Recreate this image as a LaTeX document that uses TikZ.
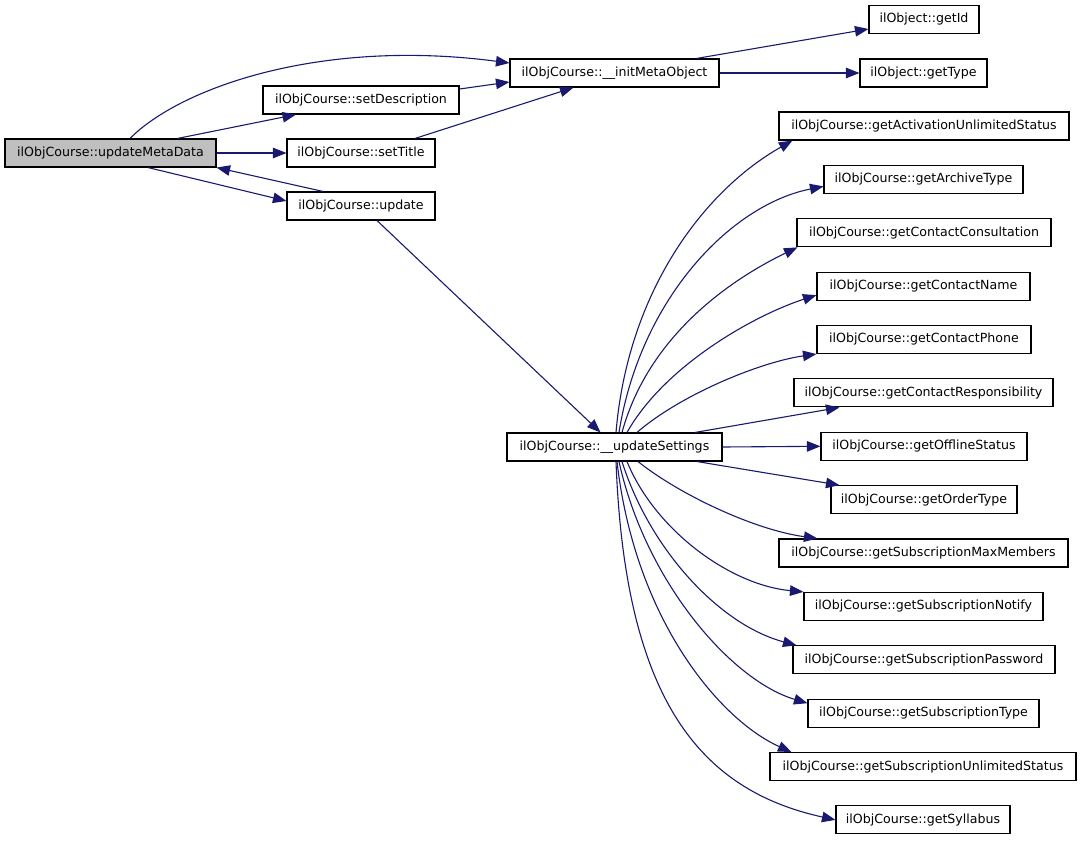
\documentclass[tikz,border=0pt]{standalone}
\usepackage{fontspec}
\newfontfamily\dv{DejaVu Sans}
\usetikzlibrary{arrows.meta,calc}
\definecolor{edgeblue}{HTML}{191970}
\definecolor{hilite}{HTML}{BFBFBF}
\begin{document}
\begin{tikzpicture}[x=1pt,y=-1pt,
  box/.style={draw=black, line width=1.1pt, minimum height=28pt, inner sep=0pt, font={\dv\fontsize{12.6}{15}\selectfont}, fill=white},
  edge/.style={draw=edgeblue, line width=1.1pt, -{Triangle[length=13.5pt,width=10.5pt]}}]
\useasboundingbox (0,0) rectangle (1083,840);
% left part
\node[box, fill=hilite, minimum width=211pt] (umd) at (110.5,153) {ilObjCourse::updateMetaData};
\node[box, minimum width=196pt] (sd) at (361,100) {ilObjCourse::setDescription};
\node[box, minimum width=148pt] (st) at (361,153) {ilObjCourse::setTitle};
\node[box, minimum width=148pt] (up) at (361,206) {ilObjCourse::update};
\node[box, minimum width=209pt] (imo) at (614.5,73) {ilObjCourse::\_\_initMetaObject};
\node[box, minimum width=110pt] (gid) at (924,19.5) {ilObject::getId};
\node[box, minimum width=127pt] (gty) at (923.5,73) {ilObject::getType};
\node[box, minimum width=215pt] (us) at (614.5,447) {ilObjCourse::\_\_updateSettings};
% right column
\node[box, minimum width=290pt] (ga)  at (924,126)   {ilObjCourse::getActivationUnlimitedStatus};
\node[box, minimum width=199pt] (gat) at (923.5,179.4) {ilObjCourse::getArchiveType};
\node[box, minimum width=254pt] (gcc) at (924,232.8) {ilObjCourse::getContactConsultation};
\node[box, minimum width=213pt] (gcn) at (923.5,286.1) {ilObjCourse::getContactName};
\node[box, minimum width=214pt] (gcp) at (924,339.5) {ilObjCourse::getContactPhone};
\node[box, minimum width=259pt] (gcr) at (923.5,392.9) {ilObjCourse::getContactResponsibility};
\node[box, minimum width=206pt] (gos) at (924,446.3) {ilObjCourse::getOfflineStatus};
\node[box, minimum width=186pt] (got) at (924,499.7) {ilObjCourse::getOrderType};
\node[box, minimum width=289pt] (gsm) at (923.5,553) {ilObjCourse::getSubscriptionMaxMembers};
\node[box, minimum width=239pt] (gsn) at (923.5,606.4) {ilObjCourse::getSubscriptionNotify};
\node[box, minimum width=262pt] (gsp) at (924,659.8) {ilObjCourse::getSubscriptionPassword};
\node[box, minimum width=231pt] (gst) at (923.5,713.2) {ilObjCourse::getSubscriptionType};
\node[box, minimum width=306pt] (gsu) at (923,766.6) {ilObjCourse::getSubscriptionUnlimitedStatus};
\node[box, minimum width=174pt] (gsy) at (923,819.9) {ilObjCourse::getSyllabus};
% edges left
\draw[edge] ($(umd.north)+(19.5,0)$) .. controls (180,88) and (320,38) .. ($(imo.west)+(0,-10)$);
\draw[edge] ($(umd.north)+(67,0)$) -- ($(sd.south)+(-65,0)$);
\draw[edge] (umd.east) -- (st.west);
\draw[edge] ($(umd.south)+(37.5,0)$) -- ($(up.west)+(0,-5)$);
\draw[edge] ($(up.north)+(-38,0)$) -- (umd.south east);
\draw[edge] ($(sd.east)+(0,-11)$) -- ($(imo.west)+(0,9)$);
\draw[edge] ($(st.north)+(54,0)$) -- ($(imo.south)+(-41,0)$);
\draw[edge] ($(imo.north)+(82,0)$) -- ($(gid.west)+(0,9.5)$);
\draw[edge] (imo.east) -- (gty.west);
\draw[edge] ($(up.south)+(16,0)$) -- ($(us.north)+(-14,0)$);
% fan upward
\draw[edge] ($(us.north)+(1.5,0)$) .. controls (628,290) and (705,190) .. ($(ga.south west)+(14,0)$);
\draw[edge] ($(us.north)+(4.5,0)$) .. controls (640,300) and (730,205) .. ($(gat.west)+(0,7)$);
\draw[edge] ($(us.north)+(7.5,0)$) .. controls (650,330) and (740,275) .. ($(gcc.south west)+(1,0)$);
\draw[edge] ($(us.north)+(12.5,0)$) .. controls (665,365) and (755,315) .. ($(gcn.west)+(0,9)$);
\draw[edge] ($(us.north)+(22.5,0)$) .. controls (680,395) and (760,362) .. (gcp.south west);
\draw[edge] ($(us.north)+(80.5,0)$) -- ($(gcr.south west)+(46,0)$);
\draw[edge] (us.east) -- (gos.west);
% fan downward
\draw[edge] ($(us.south)+(82.5,0)$) -- ($(got.north west)+(9,0)$);
\draw[edge] ($(us.south)+(23.5,0)$) .. controls (680,495) and (755,530) .. ($(gsm.north west)+(39,0)$);
\draw[edge] ($(us.south)+(12.5,0)$) .. controls (655,530) and (730,585) .. (gsn.north west);
\draw[edge] ($(us.south)+(7.5,0)$) .. controls (650,550) and (720,625) .. ($(gsp.north west)+(4,0)$);
\draw[edge] ($(us.south)+(4.5,0)$) .. controls (645,580) and (730,680) .. ($(gst.west)+(0,-10)$);
\draw[edge] ($(us.south)+(2.5,0)$) .. controls (635,620) and (720,720) .. ($(gsu.north west)+(22,0)$);
\draw[edge] ($(us.south)+(1.5,0)$) .. controls (625,700) and (700,790) .. (gsy.west);
\end{tikzpicture}
\end{document}
